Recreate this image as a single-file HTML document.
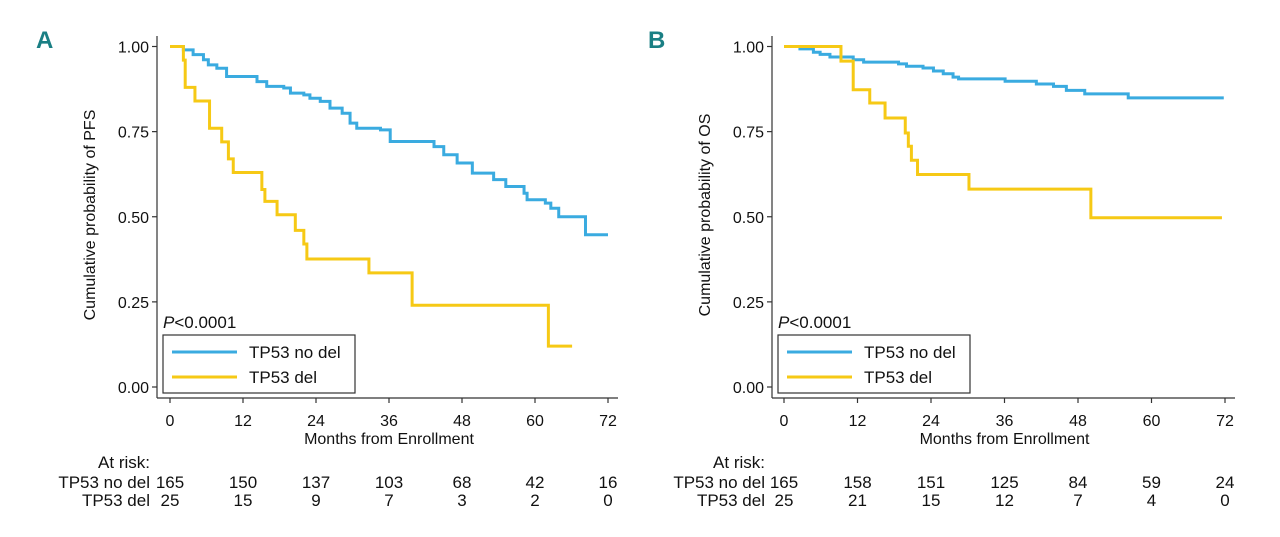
<!DOCTYPE html>
<html><head><meta charset="utf-8"><style>
body{margin:0;background:#fff;width:1280px;height:537px;overflow:hidden}
svg{display:block}
text{font-family:"Liberation Sans Narrow","Liberation Sans",sans-serif;fill:#111}
</style></head><body>
<svg id="chart" width="1280" height="537" viewBox="0 0 1280 537"></svg>
<script>
// Panel A (PFS) data: step times (months) and survival after each step
const aNoDelT=[0,2.2,3.8,5.5,6.3,7.7,9.3,14.3,15.9,18.7,19.8,22.0,23.0,24.7,26.3,28.3,29.6,30.7,34.6,36.2,43.4,45.0,47.2,49.7,53.2,55.2,58.2,58.7,61.7,62.6,63.9,68.3];
const aNoDelV=[1,0.99,0.976,0.961,0.946,0.936,0.912,0.897,0.883,0.878,0.863,0.858,0.848,0.839,0.819,0.804,0.775,0.760,0.755,0.721,0.706,0.682,0.658,0.628,0.609,0.589,0.569,0.55,0.54,0.525,0.50,0.447];
const aNoDelEnd=72;
const aDelT=[0,2.2,2.5,4.1,6.5,8.5,9.6,10.4,15.1,15.6,17.6,20.6,22.0,22.5,32.7,39.8,62.2];
const aDelV=[1,0.96,0.88,0.84,0.76,0.72,0.67,0.63,0.58,0.545,0.506,0.46,0.42,0.376,0.335,0.24,0.12];
const aDelEnd=66.1;
// Panel B (OS) data
const bNoDelT=[0,2.6,4.8,5.9,7.5,11.3,13.0,18.7,20.0,22.7,24.4,26.0,27.6,28.5,36.1,41.2,44.0,46.1,49.1,56.2];
const bNoDelV=[1,0.993,0.983,0.977,0.969,0.961,0.954,0.949,0.942,0.937,0.928,0.92,0.91,0.905,0.898,0.89,0.883,0.871,0.861,0.849];
const bNoDelEnd=71.8;
const bDelT=[0,9.3,11.3,14.0,16.5,19.8,20.3,20.8,21.8,30.2,50.1];
const bDelV=[1,0.957,0.873,0.834,0.79,0.746,0.707,0.666,0.624,0.581,0.497];
const bDelEnd=71.5;
// axes
const xTicks=[0,12,24,36,48,60,72];
const yTicks=[0,0.25,0.5,0.75,1];
const yTickLabels=["0.00","0.25","0.50","0.75","1.00"];
const aRiskNoDel=[165,150,137,103,68,42,16];
const aRiskDel=[25,15,9,7,3,2,0];
const bRiskNoDel=[165,158,151,125,84,59,24];
const bRiskDel=[25,21,15,12,7,4,0];

const NS="http://www.w3.org/2000/svg";
const svg=document.getElementById('chart');
function mk(tag,attrs,parent,txt){const e=document.createElementNS(NS,tag);for(const k in attrs)e.setAttribute(k,attrs[k]);if(txt!==undefined)e.textContent=txt;(parent||svg).appendChild(e);return e;}

function panel(p){
  const g=mk('g',{});
  
  
  const x=m=>p.x0+(m/72)*(p.x1-p.x0);
  const y=v=>387-v*(387-46.5);
  const lab=mk('text',{x:p.lx,y:48,'font-size':24,'font-weight':'bold',style:'fill:#1a7f84'},g,p.letter);
  
  
  const yax=mk('line',{x1:p.ax,y1:36,x2:p.ax,y2:398,stroke:'#333','stroke-width':1.2},g);
  
  
  const xax=mk('line',{x1:p.ax,y1:398,x2:p.x1+10,y2:398,stroke:'#333','stroke-width':1.2},g);
  
  
  yTicks.forEach((v,i)=>{
    mk('line',{x1:p.ax-5,y1:y(v),x2:p.ax,y2:y(v),stroke:'#333','stroke-width':1.2},g);
    const t=mk('text',{x:p.ax-8,y:y(v)+6,'font-size':16,'text-anchor':'end'},g,yTickLabels[i]);
    
    
  });
  xTicks.forEach((m,i)=>{
    mk('line',{x1:x(m),y1:398,x2:x(m),y2:403,stroke:'#333','stroke-width':1.2},g);
    const t=mk('text',{x:x(m),y:426,'font-size':16,'text-anchor':'middle'},g,String(m));
    
    
    const r1=mk('text',{x:x(m),y:488,'font-size':17,'text-anchor':'middle'},g,String(p.risk1[i]));
    
    
    const r2=mk('text',{x:x(m),y:506,'font-size':17,'text-anchor':'middle'},g,String(p.risk2[i]));
    
    
  });
  const xt=mk('text',{x:(x(0)+x(72))/2,y:444,'font-size':16,'text-anchor':'middle'},g,'Months from Enrollment');
  
  
  const yt=mk('text',{x:0,y:0,'font-size':16,'text-anchor':'middle',transform:`translate(${p.ax-62},215) rotate(-90)`},g,p.ytitle);
  
  
  const rl=p.ax-7;
  const ar=mk('text',{x:rl,y:468,'font-size':17,'text-anchor':'end'},g,'At risk:');
  
  
  const l1=mk('text',{x:rl,y:488,'font-size':17,'text-anchor':'end'},g,'TP53 no del');
  
  
  const l2=mk('text',{x:rl,y:506,'font-size':17,'text-anchor':'end'},g,'TP53 del');
  
  
  function step(T,V,end,color,name){
    let d=`M${x(T[0])},${y(V[0])}`;
    for(let i=1;i<T.length;i++){d+=` H${x(T[i])} V${y(V[i])}`;}
    d+=` H${x(end)}`;
    const pa=mk('path',{d,fill:'none',stroke:color,'stroke-width':3},g);
    
    
  }
  step(p.nT,p.nV,p.nEnd,'#3aabe0','curve-tp53-no-del');
  step(p.dT,p.dV,p.dEnd,'#f6c915','curve-tp53-del');
  const bx=p.ax+6;
  const pv=mk('text',{x:bx,y:328,'font-size':17},g);
  
  
  mk('tspan',{'font-style':'italic'},pv,'P');
  mk('tspan',{},pv,'<0.0001');
  const lg=mk('g',{},g);
  
  
  mk('rect',{x:bx,y:335,width:192,height:58,fill:'#fff',stroke:'#333','stroke-width':1.2},lg);
  mk('line',{x1:bx+9,y1:352,x2:bx+74,y2:352,stroke:'#3aabe0','stroke-width':3},lg);
  mk('line',{x1:bx+9,y1:377,x2:bx+74,y2:377,stroke:'#f6c915','stroke-width':3},lg);
  const e1=mk('text',{x:bx+86,y:358,'font-size':17},lg,'TP53 no del');
  
  
  const e2=mk('text',{x:bx+86,y:383,'font-size':17},lg,'TP53 del');
  
  
}
panel({name:'panel-a-pfs',letter:'A',lx:36,ax:157,x0:170,x1:608,ytitle:'Cumulative probability of PFS',
  nT:aNoDelT,nV:aNoDelV,nEnd:aNoDelEnd,dT:aDelT,dV:aDelV,dEnd:aDelEnd,risk1:aRiskNoDel,risk2:aRiskDel});
panel({name:'panel-b-os',letter:'B',lx:648,ax:772,x0:784,x1:1225,ytitle:'Cumulative probability of OS',
  nT:bNoDelT,nV:bNoDelV,nEnd:bNoDelEnd,dT:bDelT,dV:bDelV,dEnd:bDelEnd,risk1:bRiskNoDel,risk2:bRiskDel});
</script>
</body></html>
